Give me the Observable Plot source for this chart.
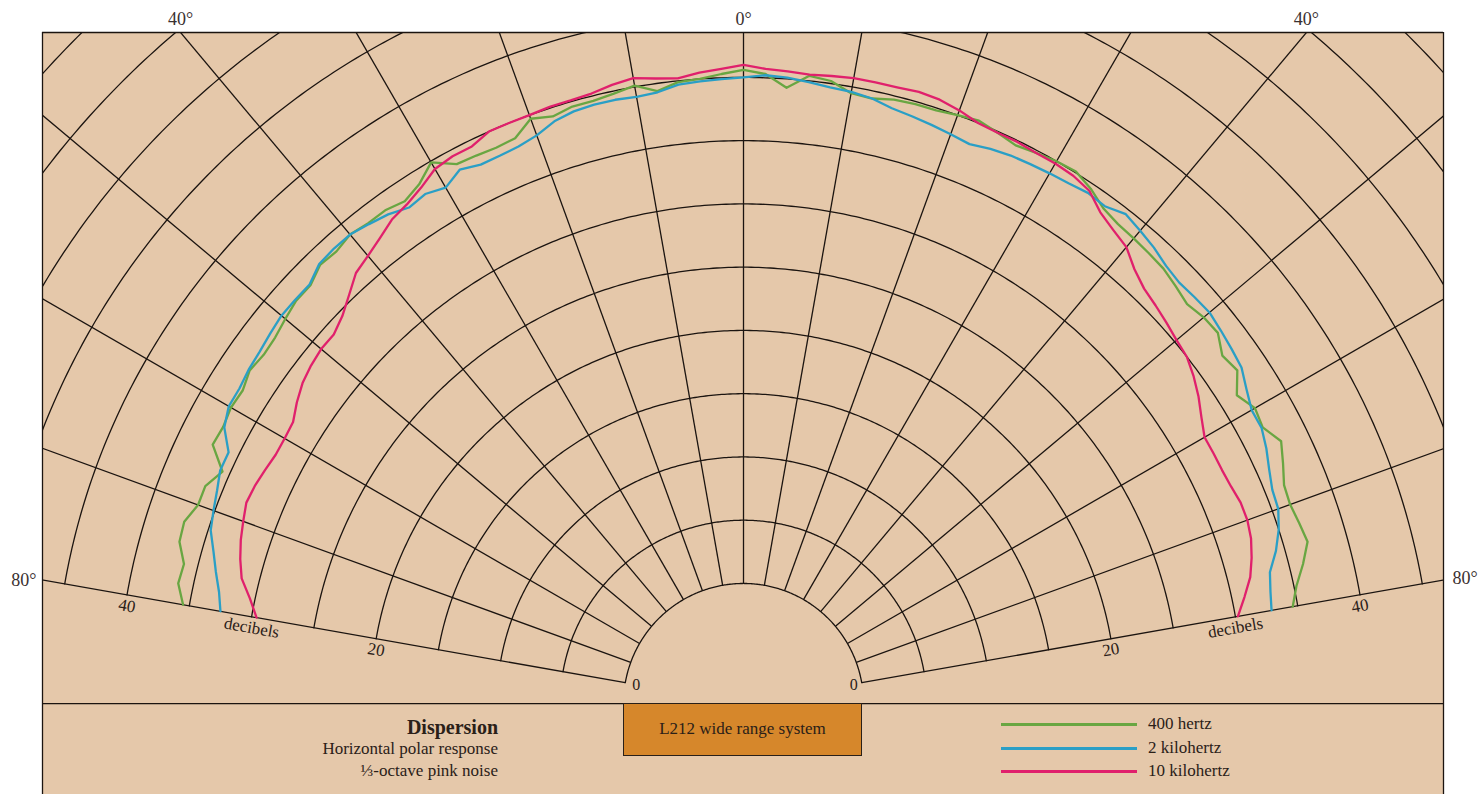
<!DOCTYPE html>
<html>
<head>
<meta charset="utf-8">
<script src="https://cdn.jsdelivr.net/npm/d3@7"></script>
<script src="https://cdn.jsdelivr.net/npm/@observablehq/plot@0.6"></script>
<style>
  body { margin: 0; background: #ffffff; }
  #wrap { position: relative; width: 1478px; height: 794px; font-family: "Liberation Serif", serif; color: #2a2018; overflow: hidden; }
  #wrap svg { position: absolute; left: 0; top: 0; }
  .t { position: absolute; white-space: nowrap; line-height: 20px; font-size: 17px; }
  .sw { position: absolute; height: 3px; }
  #box { position: absolute; left: 623px; top: 703px; width: 239px; height: 53px; background: #d6872b; border: 1px solid #2a2018; box-sizing: border-box; text-align: center; line-height: 50px; font-size: 17px; }
</style>
</head>
<body>
<div id="wrap"></div>
<script>
// ---- data (decibels, every 2 degrees from -80 to 80) ----
const angles = d3.range(-80, 81, 2);
const hz400 = [
  35.5, 36.2, 36.1, 36.9, 37.0, 36.4, 36.4, 35.6, 37.2, 37.1,
  37.3, 37.2, 37.6, 37.4, 37.5, 37.8, 38.1, 38.1, 38.7, 38.6,
  38.9, 38.7, 38.7, 38.4, 38.9, 39.9, 38.8, 38.7, 38.6, 38.7,
  39.7, 39.3, 39.6, 39.6, 39.8, 40.1, 39.4, 39.9, 40.0, 40.3,
  40.6,
  40.3, 39.3, 40.4, 40.2, 39.5, 39.4, 39.7, 39.8, 39.8, 40.0,
  40.2, 39.9, 39.6, 39.8, 40.0, 40.1, 39.6, 38.9, 38.6, 38.5,
  38.4, 38.3, 38.0, 37.7, 38.0, 38.1, 37.3, 37.6, 36.5, 37.2,
  37.0, 37.8, 37.2, 36.6, 36.5, 36.7, 36.9, 36.1, 35.2, 34.6
];
const khz2 = [
  32.5, 32.9, 33.5, 34.1, 34.8, 35.1, 35.4, 35.8, 35.8, 37.0,
  37.5, 37.5, 37.7, 37.8, 38.0, 38.2, 38.2, 38.2, 38.8, 38.9,
  38.9, 38.6, 38.3, 37.8, 38.0, 37.6, 38.3, 37.9, 37.9, 38.0,
  38.3, 38.9, 39.2, 39.3, 39.3, 39.2, 39.3, 39.7, 39.8, 39.9,
  40.0,
  40.2, 40.1, 39.9, 39.7, 39.6, 39.4, 39.0, 38.8, 38.6, 38.4,
  38.2, 38.5, 38.7, 38.8, 38.9, 39.0, 39.2, 39.1, 39.6, 39.3,
  39.0, 38.6, 38.4, 38.5, 38.6, 38.4, 38.2, 38.0, 37.4, 36.9,
  36.9, 36.5, 36.0, 35.6, 35.5, 35.0, 34.3, 33.4, 33.1, 32.9
];
const khz10 = [
  29.6, 30.4, 31.4, 31.9, 32.3, 32.6, 32.9, 32.8, 32.6, 32.4,
  32.4, 32.5, 33.1, 33.6, 33.9, 34.1, 34.1, 34.6, 35.4, 36.3,
  36.7, 37.2, 37.8, 38.1, 38.6, 39.3, 39.5, 39.5, 40.0, 40.0,
  40.0, 40.1, 40.1, 40.2, 40.5, 40.7, 40.4, 40.2, 40.5, 40.7,
  41.0,
  40.7, 40.6, 40.5, 40.6, 40.7, 40.7, 40.7, 40.8, 40.7, 40.4,
  40.0, 39.9, 39.9, 39.8, 39.8, 39.7, 39.4, 38.5, 38.0, 37.6,
  36.7, 36.1, 35.8, 35.5, 35.2, 35.0, 34.5, 33.9, 33.2, 32.6,
  32.6, 32.6, 32.7, 32.9, 32.9, 32.7, 32.3, 31.8, 31.0, 30.2
];
const seriesNames = ["400 hertz", "2 kilohertz", "10 kilohertz"];
const seriesColors = ["#69a642", "#2a9fc6", "#e0206c"];
const ringLevels = d3.range(0, 70, 5);       // dB circles
const spokeAngles = d3.range(-80, 81, 10);   // degrees
const topAngleLabels = [-40, 0, 40];
const sideAngleLabels = [-80, 80];
const dbLabels = [{db: 20, text: "20"}, {db: 30, text: "decibels"}, {db: 40, text: "40"}];
const captionLines = ["Dispersion", "Horizontal polar response", "⅓-octave pink noise"];
const boxLabel = "L212 wide range system";

// ---- polar projection into an equal-aspect x/y plane (units: dB) ----
const R0 = 9.49;                 // radius of the 0 dB circle
const rad = a => a * Math.PI / 180;
const px = (a, db) => (R0 + db) * Math.sin(rad(a));
const py = (a, db) => (R0 + db) * Math.cos(rad(a));
const xDom = [-55.42, 55.34];
const yDom = [-7.19, 53.04];
const ink = "#1b1410";
const tan = "#e5c8aa";

const allSeries = [hz400, khz2, khz10];
const rows = seriesNames.flatMap((s, k) => angles.map((a, i) => ({series: s, angle: a, db: allSeries[k][i]})));
const arcs = ringLevels.flatMap(db => d3.range(-80, 80.01, 0.5).map(a => ({db, a})));
const spokes = spokeAngles.map(a => ({a}));

const chart = Plot.plot({
  width: 1478, height: 794,
  marginLeft: 42, marginRight: 35, marginTop: 32, marginBottom: 0,
  x: {domain: xDom, axis: null},
  y: {domain: yDom, axis: null},
  color: {domain: seriesNames, range: seriesColors},
  style: {fontFamily: '"Liberation Serif", serif', background: "transparent", overflow: "visible", color: ink},
  marks: [
    Plot.frame({fill: tan, stroke: "none"}),
    Plot.line(arcs, {x: d => px(d.a, d.db), y: d => py(d.a, d.db), z: "db", stroke: ink, strokeWidth: 1.3, clip: true}),
    Plot.link(spokes, {x1: d => px(d.a, 0), y1: d => py(d.a, 0), x2: d => px(d.a, 140), y2: d => py(d.a, 140), stroke: ink, strokeWidth: 1.3, clip: true}),
    Plot.line(rows, {x: d => px(d.angle, d.db), y: d => py(d.angle, d.db), z: "series", stroke: "series", strokeWidth: 2.3, strokeLinejoin: "round", clip: true}),
    Plot.ruleX([xDom[0], xDom[1]], {stroke: ink, strokeWidth: 1.3}),
    Plot.ruleY([yDom[1], 0], {stroke: ink, strokeWidth: 1.3}),
    // angle labels
    Plot.text(topAngleLabels, {x: a => yDom[1] * Math.tan(rad(a)), y: () => yDom[1], text: a => `${Math.abs(a)}°`, dy: -13, fontSize: 18, fill: "#3a3030"}),
    Plot.text(sideAngleLabels.filter(a => a < 0), {x: () => xDom[0], y: a => -xDom[0] / Math.tan(rad(-a)), text: a => `${Math.abs(a)}°`, textAnchor: "end", dx: -6, fontSize: 18, fill: "#3a3030"}),
    Plot.text(sideAngleLabels.filter(a => a > 0), {x: () => xDom[1], y: a => xDom[1] / Math.tan(rad(a)), text: a => `${Math.abs(a)}°`, textAnchor: "start", dx: 9, dy: -2, fontSize: 18, fill: "#3a3030"}),
    // decibel labels along the 80° spokes
    Plot.text(dbLabels, {x: d => px(-80, d.db), y: d => py(-80, d.db), text: "text", rotate: 10, dy: 11, fontSize: 17, fill: "#2a2018"}),
    Plot.text(dbLabels, {x: d => px(80, d.db), y: d => py(80, d.db), text: "text", rotate: -10, dy: 11, fontSize: 17, fill: "#2a2018"}),
    Plot.text([-80], {x: a => px(a, 0), y: a => py(a, 0), text: () => "0", dx: 11, dy: 2, fontSize: 16, fill: "#2a2018"}),
    Plot.text([80], {x: a => px(a, 0), y: a => py(a, 0), text: () => "0", dx: -8, dy: 2, fontSize: 16, fill: "#2a2018"})
  ]
});

const wrap = document.getElementById("wrap");
wrap.appendChild(chart);

// caption (right-aligned block)
const capTops = [717, 739, 761];
captionLines.forEach((line, i) => {
  const d = document.createElement("div");
  d.className = "t";
  d.textContent = line;
  d.style.right = (1478 - 498) + "px";
  d.style.top = capTops[i] + "px";
  if (i === 0) { d.style.fontWeight = "bold"; d.style.fontSize = "20px"; }
  wrap.appendChild(d);
});

// boxed system label
const box = document.createElement("div");
box.id = "box";
box.textContent = boxLabel;
wrap.appendChild(box);

// legend
const legTops = [724, 748, 771];
seriesNames.forEach((name, i) => {
  const sw = document.createElement("div");
  sw.className = "sw";
  sw.style.left = "1001px"; sw.style.width = "136px";
  sw.style.top = (legTops[i] - 1.5) + "px";
  sw.style.background = seriesColors[i];
  wrap.appendChild(sw);
  const t = document.createElement("div");
  t.className = "t";
  t.textContent = name;
  t.style.left = "1148px";
  t.style.top = (legTops[i] - 10) + "px";
  wrap.appendChild(t);
});
</script>
</body>
</html>
